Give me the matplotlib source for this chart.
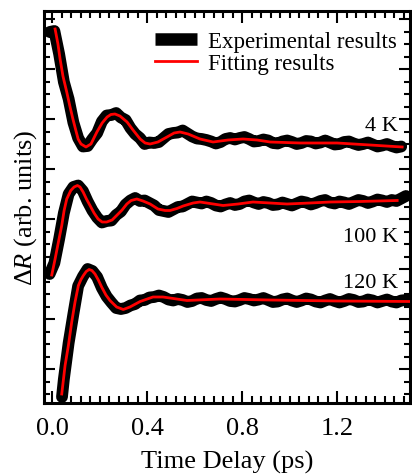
import numpy as np
import matplotlib
matplotlib.use('Agg')
import matplotlib.pyplot as plt
from matplotlib.lines import Line2D
from matplotlib.ticker import MultipleLocator, FormatStrFormatter, NullFormatter

# ---- pump-probe traces (time in ps, dR in arb. units, traces offset)
# experimental data, sampled every 0.02 ps
exp_4k = [6.74, 6.76, 6.30, 5.74, 5.40, 4.93, 4.62, 4.45, 4.46, 4.60,
          4.72, 4.95, 5.07, 5.08, 5.12, 5.03, 4.98, 4.82, 4.70, 4.62,
          4.50,
          4.53, 4.52, 4.54, 4.62, 4.70, 4.72, 4.73, 4.77, 4.71, 4.65,
          4.61, 4.60, 4.58, 4.55, 4.51, 4.54, 4.60, 4.62, 4.59, 4.62,
          4.64, 4.60, 4.55, 4.56, 4.59, 4.57, 4.52, 4.51, 4.55, 4.57,
          4.54, 4.50, 4.52, 4.56, 4.55, 4.51, 4.53, 4.57, 4.53, 4.49,
          4.50, 4.54, 4.55, 4.51, 4.48, 4.50, 4.53, 4.49, 4.45, 4.47,
          4.50, 4.46, 4.43, 4.45]
exp_100k = [1.90, 2.12, 2.60, 3.12, 3.50, 3.64, 3.67, 3.56, 3.35, 3.17,
            3.03, 2.93, 2.96, 2.97, 3.08, 3.15, 3.29, 3.37, 3.42, 3.36,
            3.37,
            3.32, 3.27, 3.18, 3.16, 3.14, 3.19, 3.24, 3.25, 3.30, 3.35,
            3.33, 3.31, 3.35, 3.32, 3.27, 3.25, 3.29, 3.32, 3.28, 3.30,
            3.35, 3.37, 3.33, 3.30, 3.34, 3.32, 3.28, 3.29, 3.33, 3.30,
            3.27, 3.31, 3.35, 3.33, 3.29, 3.32, 3.36, 3.38, 3.33, 3.31,
            3.35, 3.33, 3.30, 3.34, 3.38, 3.36, 3.32, 3.35, 3.39, 3.37,
            3.34, 3.38, 3.36, 3.41, 3.46]
# first sample of the 120 K trace sits at 0.042 ps, the rest on the grid
exp_120k = [-0.56, -0.20, 0.52, 1.10, 1.66, 1.85, 2.00, 1.96, 1.84, 1.62,
            1.45, 1.33, 1.22, 1.20, 1.22, 1.27, 1.30, 1.37, 1.38,
            1.43, 1.44, 1.47, 1.44, 1.39, 1.37, 1.40, 1.38, 1.34, 1.36,
            1.41, 1.42, 1.38, 1.36, 1.40, 1.43, 1.40, 1.36, 1.35, 1.38,
            1.42, 1.40, 1.37, 1.39, 1.42, 1.38, 1.34, 1.35, 1.39, 1.41,
            1.37, 1.34, 1.37, 1.41, 1.39, 1.35, 1.33, 1.37, 1.40, 1.36,
            1.33, 1.36, 1.40, 1.38, 1.34, 1.35, 1.39, 1.37, 1.33, 1.36,
            1.39, 1.35, 1.33, 1.37, 1.38, 1.35]

# damped-oscillation fits
fit_4k_t = [0.013, 0.025, 0.034, 0.046, 0.062, 0.076, 0.088, 0.101, 0.110,
            0.122, 0.143, 0.164, 0.189, 0.211, 0.232, 0.248, 0.265, 0.286,
            0.316, 0.341, 0.371, 0.392, 0.413, 0.446, 0.484, 0.514, 0.539,
            0.573, 0.623, 0.678, 0.741, 0.804, 0.863, 0.918, 1.044, 1.200,
            1.339, 1.474]
fit_4k = [6.80, 6.50, 6.20, 5.86, 5.54, 5.24, 5.00, 4.76, 4.60,
          4.50, 4.44, 4.50, 4.74, 4.92, 5.04, 5.09, 5.10, 5.06,
          4.94, 4.78, 4.60, 4.52, 4.50, 4.54, 4.64, 4.72, 4.74,
          4.70, 4.60, 4.54, 4.58, 4.60, 4.58, 4.54, 4.52, 4.52,
          4.48, 4.44]
fit_100k_t = [-0.001, 0.013, 0.027, 0.041, 0.051, 0.062, 0.079, 0.093,
              0.107, 0.118, 0.131, 0.145, 0.160, 0.177, 0.194, 0.211,
              0.230, 0.253, 0.272, 0.295, 0.315, 0.333, 0.357, 0.383,
              0.413, 0.446, 0.476, 0.497, 0.526, 0.552, 0.594, 0.623,
              0.665, 0.720, 0.783, 0.846, 0.918, 0.989, 1.086, 1.171,
              1.297, 1.453]
fit_100k = [1.88, 2.20, 2.54, 2.87, 3.17, 3.40, 3.57, 3.64,
            3.67, 3.64, 3.54, 3.40, 3.27, 3.12, 3.00, 2.94,
            2.94, 2.98, 3.07, 3.18, 3.30, 3.37, 3.40, 3.36,
            3.30, 3.20, 3.17, 3.17, 3.21, 3.26, 3.32, 3.34,
            3.31, 3.27, 3.30, 3.34, 3.32, 3.30, 3.32, 3.34,
            3.35, 3.37]
fit_120k_t = [0.041, 0.055, 0.069, 0.083, 0.097, 0.111, 0.122, 0.132,
              0.144, 0.156, 0.168, 0.181, 0.195, 0.209, 0.227, 0.244,
              0.272, 0.300, 0.328, 0.371, 0.425, 0.467, 0.525, 0.568,
              0.707, 0.918, 1.200, 1.510]
fit_120k = [-0.50, 0.07, 0.47, 0.94, 1.34, 1.67, 1.79, 1.87,
            1.95, 1.99, 1.97, 1.90, 1.78, 1.64, 1.48, 1.37,
            1.24, 1.19, 1.24, 1.35, 1.44, 1.44, 1.40, 1.37,
            1.40, 1.38, 1.36, 1.35]

temps = ['4 K', '100 K', '120 K']
temp_label_y = [4.78, 2.56, 1.64]


def plot_traces():
    plt.rcParams.update({
        'font.family': 'Liberation Serif',
        'mathtext.fontset': 'custom',
        'mathtext.rm': 'Liberation Serif',
        'mathtext.it': 'Liberation Serif:italic',
        'axes.linewidth': 2.2,
        'xtick.direction': 'in',
        'ytick.direction': 'in',
        'xtick.top': True,
        'ytick.right': True,
        'xtick.major.size': 8.5,
        'xtick.minor.size': 5,
        'ytick.major.size': 8,
        'ytick.minor.size': 4.5,
        'xtick.major.width': 1.5,
        'xtick.minor.width': 1.5,
        'ytick.major.width': 1.5,
        'ytick.minor.width': 1.5,
        'xtick.labelsize': 19,
        'axes.labelsize': 19,
    })

    fig = plt.figure(figsize=(4.12, 4.77), dpi=100)
    ax = fig.add_axes([44 / 412, 73 / 477, 366 / 412, 392 / 477])

    # sampling grids of the measured traces
    t_4k = -0.01 + 0.02 * np.arange(len(exp_4k))
    t_100k = -0.01 + 0.02 * np.arange(len(exp_100k))
    t_120k = np.r_[0.042, 0.05 + 0.02 * np.arange(len(exp_120k) - 1)]

    exp_kw = dict(color='black', lw=8.5, solid_capstyle='round',
                  solid_joinstyle='round', zorder=2)
    fit_kw = dict(color='#ff0000', lw=2, zorder=3)
    for t, y in [(t_4k, exp_4k), (t_100k, exp_100k), (t_120k, exp_120k)]:
        ax.plot(t, y, **exp_kw)
    for t, y in [(fit_4k_t, fit_4k), (fit_100k_t, fit_100k),
                 (fit_120k_t, fit_120k)]:
        ax.plot(t, y, **fit_kw)

    for lab, y in zip(temps, temp_label_y):
        ax.text(1.457, y, lab, ha='right', va='baseline', fontsize=16)

    ax.set_xlim(-0.0337, 1.507)
    ax.set_ylim(-0.68, 7.16)
    ax.xaxis.set_major_locator(MultipleLocator(0.4))
    ax.xaxis.set_minor_locator(MultipleLocator(0.04))
    ax.xaxis.set_major_formatter(FormatStrFormatter('%.1f'))
    ax.yaxis.set_major_locator(MultipleLocator(1))
    ax.yaxis.set_minor_locator(MultipleLocator(0.25))
    ax.yaxis.set_major_formatter(NullFormatter())
    ax.tick_params(axis='x', which='major', pad=10)

    ax.set_xlabel('Time Delay (ps)', labelpad=8)
    ax.set_ylabel(r'$\Delta R$ (arb. units)', labelpad=0)

    handles = [Line2D([], [], color='black', lw=9, solid_capstyle='butt'),
               Line2D([], [], color='#ff0000', lw=2)]
    ax.legend(handles, ['Experimental results', 'Fitting results'],
              loc='upper right', bbox_to_anchor=(1 - 13 / 366, 1 - 20 / 392),
              frameon=False, fontsize=16.5, handlelength=1.85,
              handletextpad=0.48, labelspacing=0.05, borderpad=0,
              borderaxespad=0)

    fig.savefig('out.png', dpi=100)


if __name__ == '__main__':
    plot_traces()
